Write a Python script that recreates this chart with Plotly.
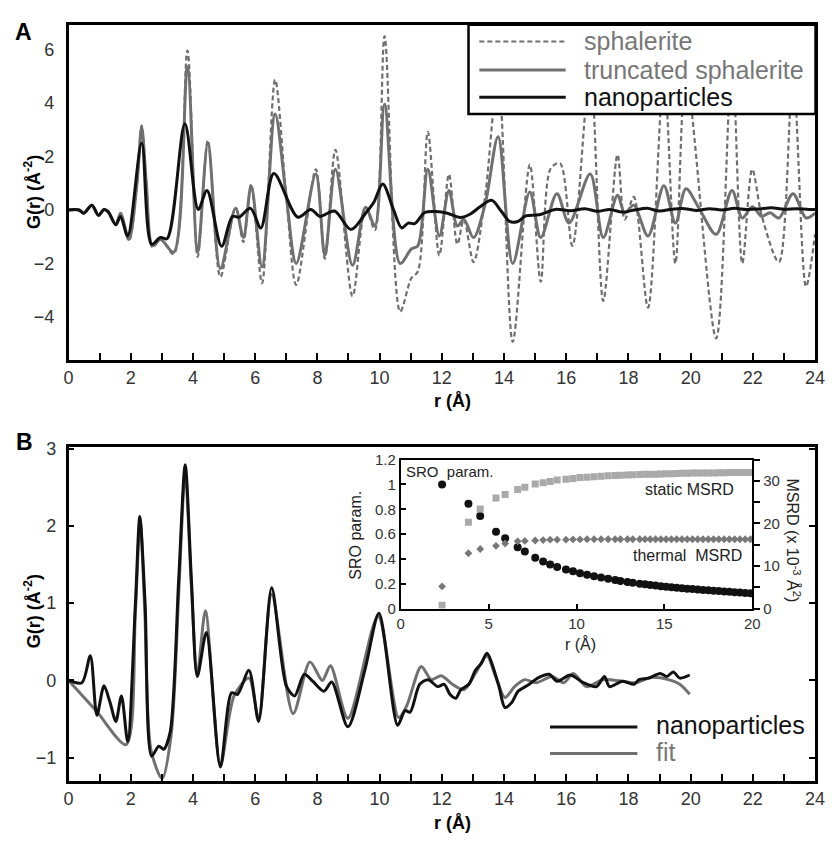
import plotly.graph_objects as go

# ---- panel A: G(r) curves (r in Angstrom, G in A^-2)
sphalerite_pts = [(0, 0), (0.35, 0), (0.49, -0.12), (0.75, 0.18), (0.96, -0.2), (1.14, 0.02), (1.27, -0.06),
                  (1.52, -0.55), (1.67, -0.12), (1.94, -1.15), (2.2, 1.0), (2.35, 3.16), (2.5, 1.0), (2.7, -1.4),
                  (2.96, -1.1), (3.38, -1.65), (3.82, 5.96), (4.15, -1.75), (4.48, 2.6), (4.88, -2.5), (5.37, 0.1),
                  (5.62, -1.2), (5.87, 0.95), (6.22, -2.74), (6.64, 4.87), (7.0, 0.5), (7.32, -2.8), (7.95, 1.52),
                  (8.24, -1.82), (8.58, 2.25), (9.13, -3.22), (9.55, 0.1), (9.85, -0.75), (10.16, 6.5), (10.66, -3.8),
                  (11.02, -2.55), (11.23, -2.3), (11.55, 2.92), (11.92, -1.7), (12.23, 1.34), (12.5, -1.28),
                  (12.71, -0.36), (13.02, -1.95), (13.39, 0.49), (13.81, 5.0), (14.28, -4.93), (14.83, 1.7),
                  (15.18, -2.68), (15.5, 1.55), (15.8, 1.75), (16.2, -1.34), (16.77, 5.2), (17.19, -3.4),
                  (17.65, 2.07), (17.88, -0.36), (18.17, 0.49), (18.63, -3.65), (19.14, 5.0), (19.51, -2.0),
                  (19.85, 5.0), (20.82, -4.8), (21.33, 5.5), (21.66, -2.0), (21.98, 1.52), (22.29, -0.24),
                  (22.84, -1.95), (23.29, 5.0), (23.71, -2.86), (24.0, -0.9)]

truncated_pts = [(0, 0), (0.35, 0), (0.49, -0.12), (0.75, 0.18), (0.96, -0.2), (1.14, 0.02), (1.27, -0.06),
                 (1.52, -0.55), (1.67, -0.12), (1.94, -1.1), (2.2, 1.0), (2.35, 3.1), (2.5, 1.0), (2.7, -1.34),
                 (2.96, -1.1), (3.38, -1.58), (3.82, 5.35), (4.15, -1.58), (4.48, 2.5), (4.88, -2.19), (5.37, 0.06),
                 (5.62, -1.03), (5.87, 0.91), (6.22, -2.13), (6.64, 3.59), (7.0, 0.5), (7.32, -2.0), (7.95, 1.34),
                 (8.24, -1.7), (8.58, 1.52), (9.13, -2.07), (9.55, 0.1), (9.85, -0.6), (10.16, 3.95), (10.66, -2.0),
                 (11.02, -1.46), (11.23, -1.34), (11.55, 1.52), (11.92, -0.97), (12.23, 0.73), (12.5, -0.6),
                 (12.71, -0.36), (13.02, -1.03), (13.39, 0.2), (13.81, 2.74), (14.28, -2.0), (14.83, 0.67),
                 (15.18, -1.03), (15.7, 0.61), (16.09, -0.49), (16.77, 1.34), (17.19, -1.03), (17.65, 0.55),
                 (17.88, -0.12), (18.17, 0.18), (18.63, -0.97), (19.14, 0.91), (19.51, -0.49), (19.85, 0.79),
                 (20.3, 0.0), (20.82, -0.91), (21.33, 0.73), (21.66, -0.3), (21.98, 0.12), (22.29, -0.24),
                 (22.55, -0.1), (22.84, -0.3), (23.29, 0.61), (23.71, -0.3), (24.0, -0.12)]

nano_a_pts = [(0, 0), (0.33, 0), (0.49, -0.12), (0.75, 0.18), (0.96, -0.2), (1.14, 0.02), (1.27, -0.06),
              (1.52, -0.55), (1.67, -0.24), (1.9, -0.97), (2.35, 2.5), (2.67, -1.28), (2.95, -1.03), (3.17, -1.07),
              (3.74, 3.22), (4.17, 0.02), (4.45, 0.73), (4.92, -1.36), (5.27, -0.24), (5.48, -0.27), (5.85, 0.06),
              (6.18, -0.67), (6.6, 1.36), (7.37, -0.27), (7.79, 0.02), (8.08, -0.24), (8.55, -0.04), (9.08, -0.73),
              (9.55, -0.12), (9.82, 0.3), (10.1, 0.97), (10.45, 0.0), (10.71, -0.67), (10.92, -0.49),
              (11.13, -0.51), (11.45, -0.1), (11.81, -0.06), (12.18, -0.12), (12.6, -0.28), (12.92, -0.15),
              (13.23, 0.12), (13.6, 0.36), (13.92, -0.06), (14.18, -0.43), (14.44, -0.43), (14.7, -0.22),
              (15.13, -0.18), (15.65, 0.02), (16.14, -0.03), (16.6, 0.05), (17.0, -0.05), (17.4, 0.02),
              (17.8, -0.08), (18.2, 0.0), (18.6, 0.06), (19.0, -0.04), (19.4, 0.03), (19.8, 0.05), (20.2, -0.02),
              (20.6, 0.05), (21.0, 0.0), (21.4, 0.06), (21.8, 0.02), (22.2, 0.04), (22.6, 0.08), (23.0, 0.03),
              (23.4, 0.05), (23.8, 0.02), (24.0, 0.02)]

# ---- panel B: data and fit
nano_b_pts = [(0, 0), (0.43, -0.03), (0.7, 0.32), (0.91, -0.45), (1.14, -0.07), (1.33, -0.28), (1.52, -0.53),
              (1.7, -0.2), (1.9, -0.79), (2.15, 1.0), (2.29, 2.12), (2.46, 1.0), (2.67, -0.98), (2.9, -0.85),
              (3.06, -0.89), (3.27, -0.66), (3.54, 1.3), (3.75, 2.79), (3.95, 1.3), (4.14, 0.05), (4.43, 0.62),
              (4.88, -1.12), (5.24, -0.16), (5.43, -0.18), (5.8, 0.13), (6.11, -0.53), (6.53, 1.2), (7.0, -0.07),
              (7.27, -0.2), (7.58, 0.08), (7.85, -0.01), (8.21, -0.14), (8.46, -0.02), (8.98, -0.6), (9.53, 0.14),
              (9.98, 0.87), (10.58, -0.58), (10.82, -0.39), (10.98, -0.41), (11.29, -0.05), (11.56, 0.01),
              (11.87, -0.08), (12.08, -0.05), (12.26, -0.18), (12.45, -0.23), (12.61, -0.12), (12.87, -0.05),
              (13.08, 0.13), (13.27, 0.22), (13.45, 0.35), (13.82, -0.05), (14.03, -0.35), (14.24, -0.29),
              (14.45, -0.14), (14.6, -0.1), (14.81, -0.05), (15.08, 0.03), (15.45, 0.08), (15.71, -0.01),
              (16.13, 0.07), (16.55, -0.03), (16.97, -0.08), (17.23, 0.05), (17.39, -0.08), (17.81, -0.01),
              (18.18, -0.05), (18.34, 0.01), (18.65, 0.03), (19.02, 0.09), (19.23, 0.05), (19.44, 0.11),
              (19.65, 0.03), (19.97, 0.07)]

fit_pts = [(0, 0), (0.9, -0.4), (1.85, -0.83), (2.15, 0.9), (2.3, 2.07), (2.45, 0.9), (2.65, -0.9), (3.01, -1.27),
           (3.3, -0.7), (3.55, 1.2), (3.75, 2.69), (3.95, 1.2), (4.14, 0.08), (4.4, 0.9), (4.88, -1.1),
           (5.32, -0.2), (5.8, 0.03), (6.11, -0.49), (6.53, 1.11), (7.22, -0.43), (7.76, 0.24), (8.16, 0.0),
           (8.42, 0.19), (8.98, -0.49), (9.95, 0.83), (10.61, -0.48), (10.87, -0.33), (11.34, 0.18), (11.66, 0.01),
           (11.98, 0.06), (12.34, -0.05), (12.71, -0.12), (13.08, 0.09), (13.45, 0.32), (13.71, 0.07),
           (14.03, -0.22), (14.34, -0.08), (14.66, 0.01), (15.03, -0.03), (15.55, 0.05), (15.92, -0.03),
           (16.23, 0.09), (16.65, -0.08), (17.18, 0.01), (17.81, -0.01), (18.23, -0.03), (18.76, 0.04),
           (19.28, 0.01), (19.65, -0.05), (19.97, -0.18)]

# ---- inset: SRO parameter and MSRD vs r
inset_r = [2.35, 3.85, 4.52, 5.42, 5.94, 6.65, 7.06, 7.65, 8.1, 8.5, 8.9, 9.4, 9.8, 10.2, 10.6, 11.0, 11.4, 11.8,
           12.2, 12.5, 12.9, 13.2, 13.6, 13.9, 14.2, 14.5, 14.8, 15.1, 15.4, 15.7, 16.0, 16.3, 16.6, 16.9, 17.2,
           17.5, 17.8, 18.1, 18.4, 18.7, 19.0, 19.3, 19.6, 19.9]
sro = [1.0, 0.845, 0.747, 0.62, 0.567, 0.494, 0.46, 0.41, 0.38, 0.355, 0.335, 0.315, 0.30, 0.285, 0.272, 0.26,
       0.25, 0.24, 0.23, 0.222, 0.215, 0.208, 0.2, 0.195, 0.19, 0.185, 0.18, 0.176, 0.172, 0.168, 0.164, 0.16,
       0.157, 0.154, 0.15, 0.147, 0.144, 0.141, 0.138, 0.135, 0.132, 0.129, 0.126, 0.123]
static_msrd = [0.8, 20.3, 23.4, 26.0, 26.8, 28.0, 28.5, 29.3, 29.6, 29.9, 30.2, 30.4, 30.6, 30.8, 30.9, 31.0,
               31.1, 31.2, 31.3, 31.35, 31.4, 31.45, 31.5, 31.55, 31.6, 31.6, 31.65, 31.7, 31.7, 31.75, 31.8,
               31.8, 31.85, 31.85, 31.9, 31.9, 31.9, 31.95, 31.95, 32.0, 32.0, 32.0, 32.0, 32.0]
thermal_msrd = [5.2, 13.0, 14.0, 14.75, 15.3, 15.8, 15.9, 16.0, 16.1, 16.2, 16.2, 16.2, 16.25, 16.25, 16.3, 16.3,
                16.3, 16.3, 16.3, 16.3, 16.3, 16.3, 16.3, 16.3, 16.3, 16.3, 16.3, 16.3, 16.3, 16.3, 16.3, 16.3,
                16.3, 16.3, 16.3, 16.3, 16.3, 16.3, 16.3, 16.3, 16.3, 16.3, 16.3, 16.3]

# page body keeps its 8px margin, so the figure is 16px smaller than the window
OFF = 8
W, H = 836 - 2 * OFF, 841 - 2 * OFF
FONT = "Liberation Sans, Arial, Helvetica, sans-serif"


def px(x):
    # window pixel -> paper fraction
    return (x - OFF) / W


def py(y):
    return 1 - (y - OFF) / H


def xy(pts):
    return [p[0] for p in pts], [p[1] for p in pts]


fig = go.Figure()

# panel A
r, g = xy(sphalerite_pts)
fig.add_trace(go.Scatter(x=r, y=g, mode="lines", line=dict(color="#6f6f6f", width=2.2, dash="5px,3px", shape="spline", smoothing=0.9),
                         xaxis="x", yaxis="y", showlegend=False))
r, g = xy(truncated_pts)
fig.add_trace(go.Scatter(x=r, y=g, mode="lines", line=dict(color="#707070", width=3, shape="spline", smoothing=0.9),
                         xaxis="x", yaxis="y", showlegend=False))
r, g = xy(nano_a_pts)
fig.add_trace(go.Scatter(x=r, y=g, mode="lines", line=dict(color="#111111", width=3, shape="spline", smoothing=0.9),
                         xaxis="x", yaxis="y", showlegend=False))

# panel B
r, g = xy(fit_pts)
fig.add_trace(go.Scatter(x=r, y=g, mode="lines", line=dict(color="#707070", width=3, shape="spline", smoothing=0.8),
                         xaxis="x2", yaxis="y2", showlegend=False))
r, g = xy(nano_b_pts)
fig.add_trace(go.Scatter(x=r, y=g, mode="lines", line=dict(color="#111111", width=3, shape="spline", smoothing=0.8),
                         xaxis="x2", yaxis="y2", showlegend=False))

# inset
fig.add_trace(go.Scatter(x=inset_r, y=static_msrd, mode="markers",
                         marker=dict(symbol="square", size=7, color="#aaaaaa"),
                         xaxis="x3", yaxis="y4", showlegend=False))
fig.add_trace(go.Scatter(x=inset_r, y=thermal_msrd, mode="markers",
                         marker=dict(symbol="diamond", size=6, color="#777777"),
                         xaxis="x3", yaxis="y4", showlegend=False))
fig.add_trace(go.Scatter(x=inset_r, y=sro, mode="markers",
                         marker=dict(symbol="circle", size=8, color="#111111"),
                         xaxis="x3", yaxis="y3", showlegend=False))

axis_common = dict(showline=True, linecolor="black", linewidth=2.5, showgrid=False, zeroline=False,
                   tickfont=dict(family=FONT, size=18, color="#333"), tickcolor="black")
main_x = dict(axis_common, range=[0, 24], domain=[px(64.6), px(825)], tick0=0, dtick=2, ticks="inside",
              ticklen=7, tickwidth=2, mirror=True,
              minor=dict(dtick=1, ticks="inside", ticklen=7, tickwidth=2, tickcolor="black", showgrid=False))
inset_font = dict(family=FONT, size=15, color="#333")

fig.update_layout(
    width=W, height=H, autosize=False,
    margin=dict(l=0, r=0, t=0, b=0),
    paper_bgcolor="white", plot_bgcolor="white",
    font=dict(family=FONT, color="#222"),
    xaxis=dict(main_x, anchor="y"),
    yaxis=dict(axis_common, range=[-5.6, 6.92], domain=[py(358), py(16)], tick0=0, dtick=2, ticks="",
               mirror=True, anchor="x", ticklabelstandoff=8),
    xaxis2=dict(main_x, anchor="y2"),
    yaxis2=dict(axis_common, range=[-1.3, 3.02], domain=[py(788), py(447)], tick0=0, dtick=1, ticks="inside",
                ticklen=6, tickwidth=2, mirror="ticks", anchor="x2", ticklabelstandoff=6),
    xaxis3=dict(showline=True, linecolor="black", linewidth=2, mirror=True, showgrid=False, zeroline=False,
                range=[0, 20], domain=[px(403), px(761)], dtick=5, ticks="inside", ticklen=5, tickwidth=1.5,
                tickcolor="black", tickfont=inset_font, anchor="y3"),
    yaxis3=dict(showline=True, linecolor="black", linewidth=2, mirror=True, showgrid=False, zeroline=False,
                range=[0, 1.2], domain=[py(612), py(460)], dtick=0.2, ticks="inside", ticklen=5, tickwidth=1.5,
                tickcolor="black", tickfont=inset_font, anchor="x3"),
    yaxis4=dict(showline=False, showgrid=False, zeroline=False, range=[0, 35], overlaying="y3", side="right",
                anchor="x3", dtick=10, ticks="outside", ticklen=7, tickwidth=1.5, tickcolor="black",
                tickfont=inset_font,
                minor=dict(dtick=5, ticks="outside", ticklen=7, tickwidth=1.5, tickcolor="black")),
)

shapes = [
    # legend box of panel A, drawn over the curves
    dict(type="rect", xref="paper", yref="paper", x0=px(472), x1=px(825.5), y0=py(107), y1=py(16),
         fillcolor="white", line=dict(color="black", width=2.5), layer="above"),
    dict(type="line", xref="paper", yref="paper", x0=px(483), x1=px(571), y0=py(33), y1=py(33),
         line=dict(color="#6f6f6f", width=2.2, dash="5px,3px"), layer="above"),
    dict(type="line", xref="paper", yref="paper", x0=px(483), x1=px(571), y0=py(62), y1=py(62),
         line=dict(color="#707070", width=3), layer="above"),
    dict(type="line", xref="paper", yref="paper", x0=px(483), x1=px(571), y0=py(90), y1=py(90),
         line=dict(color="#111111", width=3), layer="above"),
    # legend of panel B
    dict(type="line", xref="paper", yref="paper", x0=px(555), x1=px(644), y0=py(733), y1=py(733),
         line=dict(color="#111111", width=3), layer="above"),
    dict(type="line", xref="paper", yref="paper", x0=px(555), x1=px(644), y0=py(760), y1=py(760),
         line=dict(color="#707070", width=3), layer="above"),
]
fig.update_layout(shapes=shapes)


def note(text, x, y, size, color="#222", xanchor="center", angle=0, bold=False):
    fig.add_annotation(text=f"<b>{text}</b>" if bold else text, x=px(x), y=py(y), xref="paper", yref="paper",
                       xanchor=xanchor, yanchor="middle", showarrow=False, textangle=angle,
                       font=dict(family=FONT, size=size, color=color))


note("A", 19, 23, 23, "black", bold=True)
note("B", 20, 442, 23, "black", bold=True)
note("G(r) (Å<sup>-2</sup>)", 28, 187, 18, "black", angle=-90, bold=True)
note("G(r) (Å<sup>-2</sup>)", 28, 615, 18, "black", angle=-90, bold=True)
note("r (Å)", 456, 400, 18, "black", bold=True)
note("r (Å)", 456, 831, 18, "black", bold=True)

note("sphalerite", 588, 33, 25, "#777777", xanchor="left")
note("truncated sphalerite", 588, 62, 25, "#777777", xanchor="left")
note("nanoparticles", 588, 90, 25, "#111111", xanchor="left")
note("nanoparticles", 661, 731, 25, "#111111", xanchor="left")
note("fit", 661, 758, 25, "#777777", xanchor="left")

note("SRO  param.", 406, 472, 15, "#222", xanchor="left")
note("static MSRD", 744, 490, 16, "#222", xanchor="right")
note("thermal  MSRD", 753, 558, 16, "#222", xanchor="right")
note("r (Å)", 586, 648, 16, "#222")
note("SRO param.", 356, 537, 16, "#222", angle=-90)
note("MSRD (x 10<sup>-3</sup> Å<sup>2</sup>)", 803, 543, 16, "#222", angle=90)

fig.write_html("out.html")
